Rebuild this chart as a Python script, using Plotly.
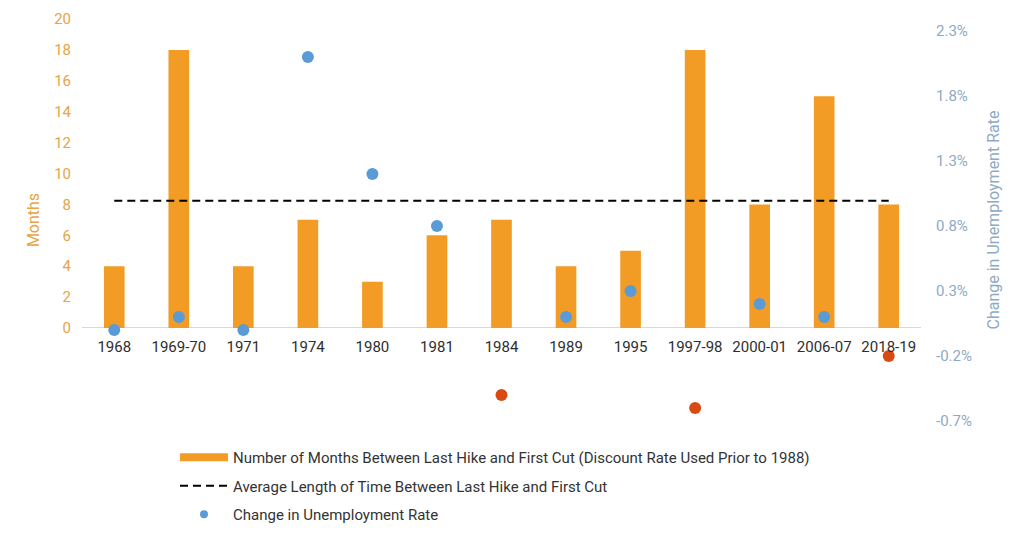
import plotly.graph_objects as go

categories = ["1968", "1969-70", "1971", "1974", "1980", "1981", "1984", "1989",
              "1995", "1997-98", "2000-01", "2006-07", "2018-19"]
months = [4, 18, 4, 7, 3, 6, 7, 4, 5, 18, 8, 15, 8]
unemp_change = [0.0, 0.1, 0.0, 2.1, 1.2, 0.8, -0.5, 0.1, 0.3, -0.6, 0.2, 0.1, -0.2]
left_ticks = list(range(0, 21, 2))
right_ticks = [-0.7, -0.2, 0.3, 0.8, 1.3, 1.8, 2.3]

avg_months = sum(months) / len(months)

ORANGE = "#F29C26"
BLUE = "#5B9BD5"
RED = "#D84A12"
FONT = "Roboto"

BAR_NAME = "Number of Months Between Last Hike and First Cut (Discount Rate Used Prior to 1988)"
AVG_NAME = "Average Length of Time Between Last Hike and First Cut"
DOT_NAME = "Change in Unemployment Rate"

fig = go.Figure()

fig.add_trace(go.Bar(
    x=categories, y=months, marker=dict(color=ORANGE, line=dict(width=0)),
    width=0.32, showlegend=False, name=BAR_NAME,
))
fig.add_trace(go.Scatter(
    x=categories, y=[avg_months] * len(categories), mode="lines",
    line=dict(color="black", width=2, dash="8px,5px"),
    name=AVG_NAME, showlegend=False,
))
fig.add_trace(go.Scatter(
    x=categories, y=unemp_change, mode="markers", yaxis="y2",
    marker=dict(size=12, color=[BLUE if v >= 0 else RED for v in unemp_change]),
    name=DOT_NAME, showlegend=False,
))

# legend entries styled like the reference legend
fig.add_trace(go.Scatter(
    x=[None], y=[None], mode="lines", line=dict(color=ORANGE, width=8),
    name=BAR_NAME, legendgroup="a",
))
fig.add_trace(go.Scatter(
    x=[None], y=[None], mode="lines", line=dict(color="black", width=2, dash="8px,5px"),
    name=AVG_NAME, legendgroup="b",
))
fig.add_trace(go.Scatter(
    x=[None], y=[None], mode="markers", marker=dict(size=8, color=BLUE),
    name=DOT_NAME, legendgroup="c",
))

fig.update_layout(
    width=1024, height=538,
    margin=dict(l=74, r=111, t=11, b=125, autoexpand=False),
    paper_bgcolor="white", plot_bgcolor="white",
    font=dict(family=FONT, size=15, color="#333333"),
    xaxis=dict(
        type="category", range=[-0.5, 12.5], anchor="free", position=93 / 402,
        showline=False, showgrid=False, ticks="", zeroline=False, automargin=False,
        tickfont=dict(size=15, color="#2E2E2E"), ticklabelstandoff=8,
    ),
    yaxis=dict(
        range=[-6.02, 20], tickvals=left_ticks, showgrid=False, automargin=False,
        zeroline=True, zerolinecolor="#D9D9D9", zerolinewidth=1,
        tickfont=dict(size=15, color="#E6A446"), ticklabelstandoff=10,
        title=dict(text="Months", font=dict(size=16, color="#E6A446"), standoff=10),
    ),
    yaxis2=dict(
        overlaying="y", side="right", range=[-0.7, 2.392], tickvals=right_ticks,
        ticktext=[f"{v:.1f}%" for v in right_ticks], showgrid=False, zeroline=False,
        automargin=False,
        tickfont=dict(size=15, color="#8EAAC4"), ticklabelstandoff=14,
        title=dict(text="Change in Unemployment Rate", font=dict(size=16, color="#8EAAC4"), standoff=16),
    ),
    legend=dict(
        orientation="v", x=(167 - 74) / 839, xanchor="left", y=-0.05, yanchor="top",
        font=dict(size=15, color="#333333"), bgcolor="rgba(0,0,0,0)",
        traceorder="grouped", tracegroupgap=6, itemwidth=48,
    ),
)

fig.write_html("out.html")
